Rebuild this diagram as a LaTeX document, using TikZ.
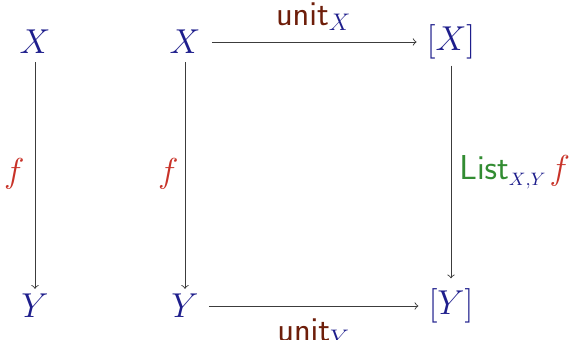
\documentclass[tikz,border=0pt]{standalone}
\usepackage{amsmath}
\definecolor{objblue}{RGB}{30,30,140}
\definecolor{mapred}{RGB}{200,50,40}
\definecolor{unitbrown}{RGB}{110,30,10}
\definecolor{listgreen}{RGB}{50,140,50}
\definecolor{arrgray}{RGB}{60,60,60}
\begin{document}
\begin{tikzpicture}[x=0.5pt,y=-0.5pt,
  obj/.style={text=objblue,font=\fontsize{17}{20}\selectfont,inner sep=0pt},
  arr/.style={->,draw=arrgray,line width=0.45pt},
  lab/.style={font=\fontsize{17}{20}\selectfont,inner sep=0pt}]
\useasboundingbox (0,0) rectangle (570,340);
\node[obj] (xl) at (35,42) {$X$};
\node[obj] (yl) at (35,306) {$Y$};
\node[obj] (x) at (185,42) {$X$};
\node[obj] (y) at (185,306) {$Y$};
\node[obj] (lx) at (451,42) {$[X]$};
\node[obj] (ly) at (451,306) {$[Y]$};
\draw[arr,shorten <=4pt,shorten >=2.5pt] (xl) -- node[lab,left=5pt,text=mapred] {$f$} (yl);
\draw[arr,shorten <=4pt,shorten >=2.5pt] (x) -- node[lab,left=3pt,text=mapred] {$f$} (y);
\draw[arr,shorten <=3pt,shorten >=5pt] (lx) -- node[lab,right=4pt,yshift=1pt,font=\fontsize{16}{19}\selectfont] {\textcolor{listgreen}{$\mathsf{List}$}\hbox{\lower3pt\hbox{\fontsize{9.5}{11}\selectfont$\textcolor{objblue}{X{,}Y}$}}\hspace{2pt}\textcolor{mapred}{$f$}} (ly);
\draw[arr,shorten <=5.5pt,shorten >=5pt] (x) -- node[lab,above=5.5pt,text=unitbrown] {$\mathsf{unit}_{\textcolor{objblue}{X}}$} (lx);
\draw[arr,shorten <=5pt,shorten >=5pt] (y) -- node[lab,below=6pt,text=unitbrown] {$\mathsf{unit}_{\textcolor{objblue}{Y}}$} (ly);
\end{tikzpicture}
\end{document}
